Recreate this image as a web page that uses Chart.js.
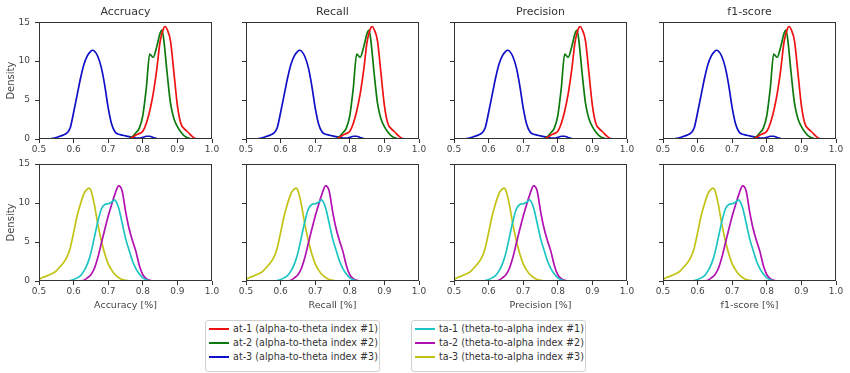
<!DOCTYPE html>
<html lang="en">
<head>
<meta charset="UTF-8">
<title>KDE of classification metrics</title>
<script src="https://cdn.jsdelivr.net/npm/chart.js@4.4.0/dist/chart.umd.js"></script>
<style>
    body { margin: 0; background: #fff; font-family: "DejaVu Sans", sans-serif; }
    #wrap { position: relative; width: 850px; height: 373px; overflow: hidden; }
    #wrap canvas { position: absolute; }
    .legend {
        position: absolute; top: 320px; height: 52px;
        border: 1px solid #d0d0d0; border-radius: 3px; background: #fff;
        box-sizing: border-box; padding: 1px 0 0 3px;
        font-size: 9.6px; color: #333;
    }
    .legend div { height: 14px; line-height: 14px; white-space: nowrap; }
    .legend .swatch {
        display: inline-block; width: 20px; height: 2px;
        vertical-align: middle; margin-right: 4px;
    }
</style>
</head>
<body>
<div id="wrap"></div>

<script>
// panel titles and axis labels
const metricTitles = ['Accruacy', 'Recall', 'Precision', 'f1-score'];
const metricLabels = ['Accuracy [%]', 'Recall [%]', 'Precision [%]', 'f1-score [%]'];
const xTickValues = [0.5, 0.6, 0.7, 0.8, 0.9, 1.0];
const yTickValues = [0, 5, 10, 15];

// density curves (same in every column)
const at1X = [0.76, 0.77, 0.78, 0.79, 0.80, 0.81, 0.82, 0.83, 0.84, 0.85, 0.86, 0.865, 0.87, 0.88, 0.89, 0.90, 0.91, 0.92, 0.93, 0.94, 0.95, 0.96];
const at1Y = [0, 0.2, 0.5, 0.7, 1.0, 2.0, 3.6, 5.8, 8.8, 12.5, 14.2, 14.45, 14.1, 12.6, 8.5, 4.3, 2.0, 1.3, 0.9, 0.45, 0.1, 0];

const at2X = [0.76, 0.77, 0.78, 0.79, 0.80, 0.81, 0.82, 0.83, 0.84, 0.85, 0.855, 0.86, 0.87, 0.88, 0.89, 0.90, 0.91, 0.92, 0.93, 0.94];
const at2Y = [0, 0.3, 0.8, 1.4, 3.0, 6.5, 10.9, 10.5, 11.8, 13.6, 14.0, 13.0, 8.6, 4.6, 2.6, 1.6, 0.9, 0.4, 0.15, 0];

const at3X = [0.53, 0.54, 0.55, 0.56, 0.57, 0.58, 0.59, 0.60, 0.61, 0.62, 0.63, 0.64, 0.65, 0.655, 0.66, 0.67, 0.68, 0.69, 0.70, 0.71, 0.72, 0.73, 0.74, 0.75, 0.76, 0.77, 0.78, 0.79, 0.80, 0.81, 0.82, 0.83, 0.84, 0.85];
const at3Y = [0, 0.08, 0.18, 0.35, 0.5, 0.75, 1.4, 3.4, 5.6, 7.8, 9.6, 10.7, 11.3, 11.4, 11.3, 10.6, 9.2, 6.9, 4.0, 1.9, 0.9, 0.6, 0.5, 0.4, 0.3, 0.2, 0.12, 0.1, 0.2, 0.35, 0.35, 0.2, 0.05, 0];

const ta1X = [0.58, 0.59, 0.60, 0.61, 0.62, 0.63, 0.64, 0.65, 0.66, 0.67, 0.68, 0.69, 0.70, 0.71, 0.718, 0.73, 0.74, 0.75, 0.76, 0.77, 0.78, 0.79, 0.80, 0.81, 0.82, 0.83];
const ta1Y = [0, 0.05, 0.2, 0.4, 0.7, 1.3, 2.2, 3.6, 5.6, 7.6, 9.2, 9.8, 9.9, 10.1, 10.4, 9.4, 7.5, 5.5, 4.0, 2.6, 1.6, 0.9, 0.4, 0.15, 0.03, 0];

const ta2X = [0.62, 0.63, 0.64, 0.65, 0.66, 0.67, 0.68, 0.69, 0.70, 0.71, 0.72, 0.73, 0.74, 0.75, 0.76, 0.77, 0.78, 0.79, 0.80, 0.81, 0.82, 0.83];
const ta2Y = [0, 0.1, 0.4, 0.8, 1.6, 3.0, 4.8, 6.6, 8.3, 9.8, 11.2, 12.2, 11.6, 9.0, 6.8, 5.2, 3.8, 2.0, 0.8, 0.3, 0.1, 0];

const ta3X = [0.50, 0.51, 0.52, 0.53, 0.54, 0.55, 0.56, 0.57, 0.58, 0.59, 0.60, 0.61, 0.62, 0.63, 0.64, 0.645, 0.65, 0.66, 0.67, 0.68, 0.69, 0.70, 0.71, 0.72, 0.73, 0.74, 0.75, 0.76];
const ta3Y = [0.2, 0.45, 0.6, 0.8, 1.0, 1.3, 1.8, 2.3, 3.0, 4.2, 6.2, 8.3, 9.9, 11.2, 11.8, 11.9, 11.6, 9.8, 7.3, 5.2, 3.5, 2.2, 1.4, 0.8, 0.45, 0.2, 0.1, 0];

const topSeries = [
    { label: 'at-1 (alpha-to-theta index #1)', xs: at1X, ys: at1Y, color: '#ee1111' },
    { label: 'at-2 (alpha-to-theta index #2)', xs: at2X, ys: at2Y, color: '#0e7a0e' },
    { label: 'at-3 (alpha-to-theta index #3)', xs: at3X, ys: at3Y, color: '#1010c8' }
];
const bottomSeries = [
    { label: 'ta-1 (theta-to-alpha index #1)', xs: ta1X, ys: ta1Y, color: '#1cc4c4' },
    { label: 'ta-2 (theta-to-alpha index #2)', xs: ta2X, ys: ta2Y, color: '#b210b2' },
    { label: 'ta-3 (theta-to-alpha index #3)', xs: ta3X, ys: ta3Y, color: '#c2c214' }
];

const plotLefts = [39, 246, 454, 663];
const yAxisWidth = 39;
const axisColor = '#333';
const textColor = '#444';
const fontFamily = "'DejaVu Sans', sans-serif";

// box around the plot area like matplotlib spines
const framePlugin = {
    id: 'frame',
    afterDraw(chart) {
        const a = chart.chartArea;
        const ctx = chart.ctx;
        ctx.save();
        ctx.strokeStyle = axisColor;
        ctx.lineWidth = 1;
        ctx.strokeRect(Math.round(a.left) + 0.5, Math.round(a.top) + 0.5,
            Math.round(a.right - a.left) - 1, Math.round(a.bottom - a.top) - 1);
        ctx.restore();
    }
};

function makePanel(col, isBottom) {
    const series = isBottom ? bottomSeries : topSeries;
    const canvas = document.createElement('canvas');
    const width = yAxisWidth + 173 + 10;
    const height = isBottom ? 170 : 157;
    canvas.width = width;
    canvas.height = height;
    canvas.style.left = (plotLefts[col] - yAxisWidth) + 'px';
    canvas.style.top = (isBottom ? 150 : 0) + 'px';
    document.getElementById('wrap').appendChild(canvas);

    new Chart(canvas.getContext('2d'), {
        type: 'line',
        data: {
            datasets: series.map(s => ({
                label: s.label,
                data: s.xs.map((x, i) => ({ x: x, y: s.ys[i] })),
                borderColor: s.color,
                borderWidth: 1.7,
                pointRadius: 0,
                fill: false,
                cubicInterpolationMode: 'monotone'
            }))
        },
        options: {
            responsive: false,
            animation: false,
            devicePixelRatio: 1,
            layout: { padding: { top: isBottom ? 14 : 0, right: 10, bottom: 0, left: 0 } },
            plugins: {
                legend: { display: false },
                tooltip: { enabled: false },
                title: {
                    display: !isBottom,
                    fullSize: false, // centre over the plot area only
                    text: metricTitles[col],
                    color: '#333',
                    font: { family: fontFamily, size: 11, weight: 'normal' },
                    padding: { top: 6, bottom: 3 }
                }
            },
            scales: {
                x: {
                    type: 'linear',
                    min: 0.5,
                    max: 1.0,
                    afterBuildTicks: s => { s.ticks = xTickValues.map(v => ({ value: v })); },
                    afterFit: s => { s.height = isBottom ? 39 : 18; },
                    border: { display: false },
                    grid: { drawOnChartArea: false, drawTicks: true, tickLength: 4, color: axisColor },
                    ticks: {
                        padding: 1,
                        maxRotation: 0,
                        color: textColor,
                        font: { family: fontFamily, size: 9 },
                        callback: v => v.toFixed(1)
                    },
                    title: {
                        display: isBottom,
                        text: metricLabels[col],
                        color: textColor,
                        font: { family: fontFamily, size: 9.5 },
                        padding: { top: 0, bottom: 9 }
                    }
                },
                y: {
                    min: 0,
                    max: 15,
                    afterBuildTicks: s => { s.ticks = yTickValues.map(v => ({ value: v })); },
                    afterFit: s => { s.width = yAxisWidth; },
                    border: { display: false },
                    grid: { drawOnChartArea: false, drawTicks: true, tickLength: 4, color: axisColor },
                    ticks: {
                        display: col === 0,
                        padding: 5,
                        color: textColor,
                        font: { family: fontFamily, size: 9 }
                    },
                    title: {
                        display: col === 0,
                        text: 'Density',
                        color: textColor,
                        font: { family: fontFamily, size: 10 },
                        padding: { top: 5, bottom: 0 }
                    }
                }
            }
        },
        plugins: [framePlugin]
    });
}

for (let c = 0; c < 4; c++) {
    makePanel(c, false);
    makePanel(c, true);
}

// legend boxes below the grid
function makeLegend(series, left) {
    const box = document.createElement('div');
    box.className = 'legend';
    box.style.left = left + 'px';
    box.style.width = '175px';
    series.forEach(s => {
        const row = document.createElement('div');
        const sw = document.createElement('span');
        sw.className = 'swatch';
        sw.style.backgroundColor = s.color;
        row.appendChild(sw);
        row.appendChild(document.createTextNode(s.label));
        box.appendChild(row);
    });
    document.getElementById('wrap').appendChild(box);
}
makeLegend(topSeries, 205);
makeLegend(bottomSeries, 411);
</script>
</body>
</html>
